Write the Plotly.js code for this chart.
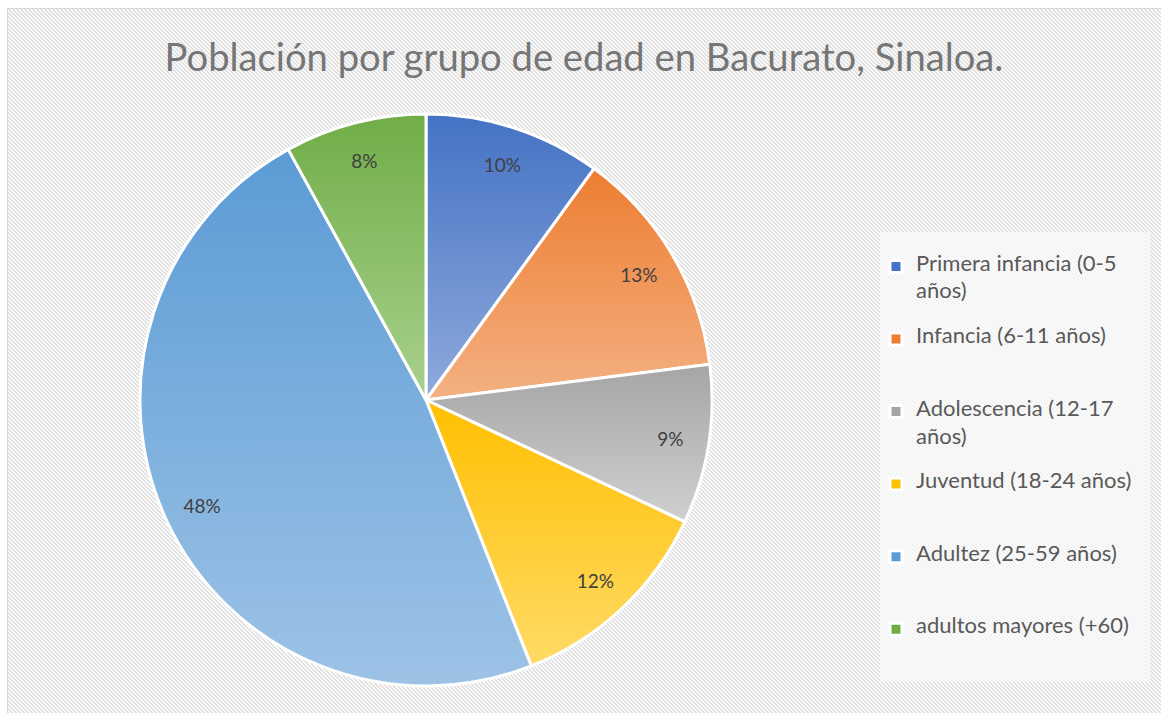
<!DOCTYPE html>
<html>
<head>
<meta charset="utf-8">
<script src="https://cdn.plot.ly/plotly-3.0.1.min.js"></script>
<style>
  html, body { margin: 0; padding: 0; background: #ffffff; }
  #wrap { position: relative; width: 1161px; height: 713px; overflow: hidden; background: #ffffff; }
  #bg { position: absolute; left: 7px; top: 8px; width: 1160px; height: 710px;
        border-top: 1.5px solid #d9d9d9; border-left: 1.5px solid #d9d9d9;
        background-color: #fbfbfb;
        background-image: url("data:image/svg+xml,%3Csvg xmlns='http://www.w3.org/2000/svg' width='4' height='4' shape-rendering='crispEdges'%3E%3Cpath fill='%23e0e0e0' d='M0 0h2v1H0zM1 1h2v1H1zM2 2h2v1H2zM3 3h1v1H3zM0 3h1v1H0z'/%3E%3C/svg%3E");
        background-repeat: repeat; background-size: 4px 4px; }
  #legbg { position: absolute; left: 880px; top: 232px; width: 270px; height: 450px;
        background: rgba(255,255,255,0.55); }
  #chart { position: absolute; left: 0; top: 0; width: 1161px; height: 713px; }
</style>
</head>
<body>
<div id="wrap">
  <div id="bg"></div>
  <div id="legbg"></div>
  <div id="chart"></div>
</div>
<script>
// Legend lines per category (multi-line entries wrap as in the original)
const groupLines = [
  ["Primera infancia (0-5", "años)"],
  ["Infancia (6-11 años)"],
  ["Adolescencia (12-17", "años)"],
  ["Juventud (18-24 años)"],
  ["Adultez (25-59 años)"],
  ["adultos mayores (+60)"]
];
const groupShares = [10, 13, 9, 12, 48, 8];

const baseColors = ["#4472C4", "#ED7D31", "#A5A5A5", "#FFC000", "#5B9BD5", "#70AD47"];
const lightColors = ["#8FAADC", "#F4B183", "#D0D0D0", "#FFDA66", "#9DC3E6", "#A9D18E"];

const W = 1161, H = 713;
const cx = 426, cy = 400, R = 286;
const legendTextSize = 22;

// Each legend entry occupies a fixed slot of 5 small lines; real text lines are spaced two slots apart.
function legendLabel(lines) {
  const out = [];
  lines.forEach(function (t, k) {
    if (k > 0) out.push("&nbsp;");
    out.push('<span style="font-size:' + legendTextSize + 'px">' + t + "</span>");
  });
  while (out.length < 5) out.push("&nbsp;");
  return out.join("<br>");
}
const legendLabels = groupLines.map(legendLabel);

const domain = {
  x: [(cx - R) / W, (cx + R) / W],
  y: [(H - cy - R) / H, (H - cy + R) / H]
};

const pieTrace = {
  type: "pie",
  labels: legendLabels,
  values: groupShares,
  sort: false,
  direction: "clockwise",
  rotation: 0,
  marker: { colors: baseColors, line: { color: "#ffffff", width: 3 } },
  textinfo: "none",
  hoverinfo: "percent",
  domain: domain
};

// Transparent ring carrying the percentage labels near the outer edge
const labelTrace = {
  type: "pie",
  labels: legendLabels,
  values: groupShares,
  sort: false,
  direction: "clockwise",
  rotation: 0,
  hole: 0.73,
  showlegend: false,
  marker: { colors: baseColors.map(function () { return "rgba(0,0,0,0)"; }), line: { width: 0 } },
  texttemplate: "%{percent:.0%}",
  textposition: "inside",
  insidetextorientation: "horizontal",
  insidetextfont: { family: "Lato, 'Open Sans', sans-serif", size: 19, color: "#404040" },
  hoverinfo: "skip",
  domain: domain
};

const layout = {
  width: W, height: H,
  margin: { l: 0, r: 0, t: 0, b: 0 },
  paper_bgcolor: "rgba(0,0,0,0)",
  plot_bgcolor: "rgba(0,0,0,0)",
  title: {
    text: "Población por grupo de edad en Bacurato, Sinaloa.",
    font: { family: "Lato, 'Open Sans', sans-serif", size: 38.2, color: "#767676" },
    x: 0.503, xanchor: "center",
    y: 1 - 58 / H, yanchor: "middle", yref: "container"
  },
  showlegend: true,
  legend: {
    x: 876 / W, xanchor: "left",
    y: 1 - 253 / H, yanchor: "top",
    bgcolor: "rgba(0,0,0,0)",
    valign: "top",
    font: { family: "Lato, 'Open Sans', sans-serif", size: 10.7, color: "#595959" },
    itemclick: false
  }
};

Plotly.newPlot("chart", [pieTrace, labelTrace], layout, { displayModeBar: false }).then(function (gd) {
  const svg = gd.querySelector("svg.main-svg");
  const ns = "http://www.w3.org/2000/svg";
  let defs = svg.querySelector("defs");
  if (!defs) { defs = document.createElementNS(ns, "defs"); svg.insertBefore(defs, svg.firstChild); }
  baseColors.forEach(function (c, i) {
    const g = document.createElementNS(ns, "linearGradient");
    g.setAttribute("id", "sliceGrad" + i);
    g.setAttribute("x1", "0"); g.setAttribute("y1", "0");
    g.setAttribute("x2", "0"); g.setAttribute("y2", "1");
    const s1 = document.createElementNS(ns, "stop");
    s1.setAttribute("offset", "0"); s1.setAttribute("stop-color", c);
    const s2 = document.createElementNS(ns, "stop");
    s2.setAttribute("offset", "1"); s2.setAttribute("stop-color", lightColors[i]);
    g.appendChild(s1); g.appendChild(s2);
    defs.appendChild(g);
  });
  const firstTrace = gd.querySelector("g.pielayer g.trace");
  if (firstTrace) {
    firstTrace.querySelectorAll("g.slice").forEach(function (s, i) {
      const p = s.querySelector("path.surface");
      if (p) p.style.fill = "url(#sliceGrad" + i + ")";
    });
  }
});
</script>
</body>
</html>
